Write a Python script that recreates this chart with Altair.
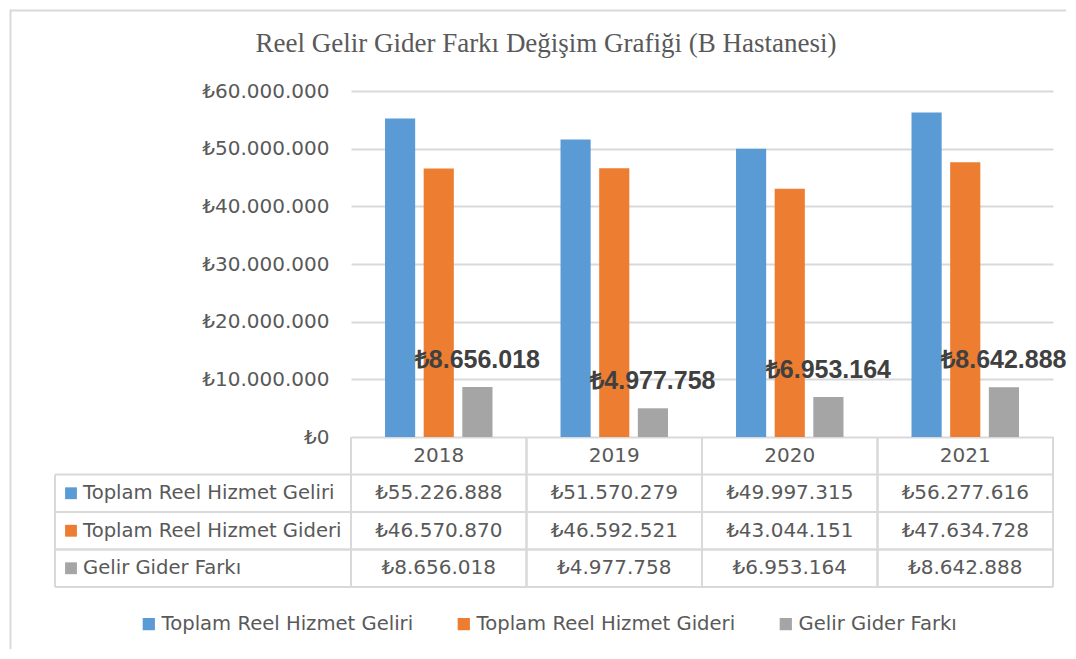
import altair as alt
import pandas as pd

years = ["2018", "2019", "2020", "2021"]
series = ["Toplam Reel Hizmet Geliri", "Toplam Reel Hizmet Gideri", "Gelir Gider Farkı"]
gelir = [55226888, 51570279, 49997315, 56277616]
gider = [46570870, 46592521, 43044151, 47634728]
fark = [8656018, 4977758, 6953164, 8642888]
y_ticks = [0, 10000000, 20000000, 30000000, 40000000, 50000000, 60000000]
colors = ["#5B9BD5", "#ED7D31", "#A5A5A5"]
title_text = "Reel Gelir Gider Farkı Değişim Grafiği (B Hastanesi)"

rows = []
for s, vals in zip(series, [gelir, gider, fark]):
    for y, v in zip(years, vals):
        rows.append({"year": y, "series": s, "value": v})
df = pd.DataFrame(rows)

W, H = 702, 346
TH = 150
RH = TH / 4
GRID = "#d9d9d9"
TXT = "#595959"
FONT = "DejaVu Sans"
NUM_FS = 20
LAB_FS = 19.6

xscale = alt.Scale(domain=years, paddingInner=0, paddingOuter=0)
cscale = alt.Scale(domain=series, range=colors)
oscale = alt.Scale(domain=series, paddingInner=0.22, paddingOuter=0.88)

base = alt.Chart(df)

bars = base.mark_bar().encode(
    x=alt.X("year:N", scale=xscale, axis=None),
    xOffset=alt.XOffset("series:N", sort=series, scale=oscale),
    y=alt.Y("value:Q", scale=alt.Scale(domain=[0, 60000000]),
            axis=alt.Axis(values=y_ticks, format="$,.0f", title=None, domain=False, ticks=False,
                          grid=True, gridColor=GRID, gridWidth=2, labelFont=FONT,
                          labelFontSize=NUM_FS, labelColor=TXT, labelPadding=22)),
    color=alt.Color("series:N", scale=cscale, sort=series,
                    legend=alt.Legend(orient="none", legendX=-212, legendY=523, direction="horizontal",
                                      title=None, symbolType="square", symbolSize=150,
                                      symbolStrokeWidth=0, labelFont=FONT, labelFontSize=LAB_FS,
                                      labelColor=TXT, columnPadding=40, labelOffset=3,
                                      labelLimit=400)),
)

labels = base.transform_filter(alt.datum.series == series[2]).mark_text(
    dy=-27, font="Liberation Sans", fontWeight="bold", fontSize=25, color="#404040"
).encode(
    x=alt.X("year:N", scale=xscale, axis=None),
    xOffset=alt.XOffset("series:N", sort=series, scale=oscale),
    y=alt.Y("value:Q"),
    text=alt.Text("value:Q", format="$,.0f"),
)

one = alt.Chart(pd.DataFrame({"t": [title_text]}))
title = one.mark_text(font="Liberation Serif", fontSize=27, color=TXT, baseline="middle").encode(
    x=alt.value(195), y=alt.value(-47), text="t:N")
left_border = one.mark_rule(color=GRID, strokeWidth=2).encode(
    x=alt.value(-340.5), y=alt.value(-81.5), y2=alt.value(558))
top_border = one.mark_rule(color=GRID, strokeWidth=2).encode(
    y=alt.value(-80.5), x=alt.value(-341), x2=alt.value(715))

top = alt.layer(left_border, top_border, title, bars, labels).properties(width=W, height=H)

# ---- data table ----
trows = ["header"] + series
yscale = alt.Scale(domain=trows, paddingInner=0, paddingOuter=0)
ydef = dict(scale=yscale, axis=None)

ydf = pd.DataFrame({"year": years, "series": ["header"] * len(years)})
sdf = pd.DataFrame({"series": series})

hdr = alt.Chart(ydf).mark_text(font=FONT, fontSize=NUM_FS, color=TXT).encode(
    x=alt.X("year:N", scale=xscale, axis=None), y=alt.Y("series:N", **ydef), text="year:N")
cells = alt.Chart(df).mark_text(font=FONT, fontSize=NUM_FS, color=TXT).encode(
    x=alt.X("year:N", scale=xscale, axis=None), y=alt.Y("series:N", **ydef),
    text=alt.Text("value:Q", format="$,.0f"))
rowlab = alt.Chart(sdf).mark_text(font=FONT, fontSize=LAB_FS, color=TXT, align="left", x=-268).encode(
    y=alt.Y("series:N", **ydef), text="series:N")
sq = alt.Chart(sdf).mark_square(size=140, x=-280, opacity=1).encode(
    y=alt.Y("series:N", **ydef), color=alt.Color("series:N", scale=cscale, legend=None))
vl0 = alt.Chart(ydf).mark_rule(color=GRID, strokeWidth=2).encode(
    x=alt.X("year:N", scale=xscale, axis=None, bandPosition=0), y=alt.value(0), y2=alt.value(TH))
vl1 = alt.Chart(ydf).mark_rule(color=GRID, strokeWidth=2).encode(
    x=alt.X("year:N", scale=xscale, axis=None, bandPosition=1), y=alt.value(0), y2=alt.value(TH))
hl0 = alt.Chart(sdf).mark_rule(color=GRID, strokeWidth=2).encode(
    y=alt.Y("series:N", bandPosition=0, **ydef), x=alt.value(-296), x2=alt.value(W))
hl1 = alt.Chart(sdf).mark_rule(color=GRID, strokeWidth=2).encode(
    y=alt.Y("series:N", bandPosition=1, **ydef), x=alt.value(-296), x2=alt.value(W))
lv = alt.Chart(sdf.head(1)).mark_rule(color=GRID, strokeWidth=2).encode(
    x=alt.value(-296), y=alt.value(RH), y2=alt.value(TH))

table = alt.layer(vl0, vl1, hl0, hl1, lv, hdr, cells, sq, rowlab).properties(width=W, height=TH)

chart = alt.vconcat(top, table, spacing=0, bounds="flush").resolve_scale(
    color="shared"
).properties(
    padding={"left": 1, "top": 0, "right": 0, "bottom": 0}
).configure(
    locale={"number": {"decimal": ",", "thousands": ".", "grouping": [3], "currency": ["₺", ""]}},
    view={"stroke": None, "strokeWidth": 0},
)

chart.save("out.html", embed_options={"renderer": "svg", "actions": False})
